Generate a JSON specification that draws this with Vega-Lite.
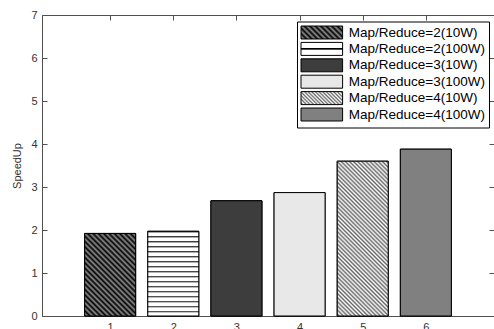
{
  "$schema": "https://vega.github.io/schema/vega-lite/v6.json",
  "width": 452,
  "height": 301,
  "autosize": "none",
  "padding": {"left": 42, "top": 15, "right": 0, "bottom": 13},
  "background": "white",
  "config": {"view": {"stroke": null}, "font": "Liberation Sans"},
  "data": {"values": [
    {"x": 1, "speedup": 1.92, "series": "Map/Reduce=2(10W)"},
    {"x": 2, "speedup": 1.97, "series": "Map/Reduce=2(100W)"},
    {"x": 3, "speedup": 2.68, "series": "Map/Reduce=3(10W)"},
    {"x": 4, "speedup": 2.87, "series": "Map/Reduce=3(100W)"},
    {"x": 5, "speedup": 3.60, "series": "Map/Reduce=4(10W)"},
    {"x": 6, "speedup": 3.88, "series": "Map/Reduce=4(100W)"}
  ]},
  "layer": [
    {
      "mark": {"type": "bar", "width": 51, "strokeWidth": 1},
      "encoding": {
        "x": {"field": "x", "type": "quantitative", "scale": {"domain": [0, 7], "nice": false}, "axis": null},
        "y": {"field": "speedup", "type": "quantitative", "scale": {"domain": [0, 7], "nice": false}, "axis": null},
        "fill": {
          "field": "x", "type": "ordinal", "legend": null,
          "scale": {"domain": [1, 2, 3, 4, 5, 6], "range": ["#333333", "#f0f0f0", "#3d3d3d", "#e8e8e8", "#bbbbbb", "#808080"]}
        },
        "stroke": {
          "field": "series", "type": "nominal",
          "scale": {
            "domain": ["Map/Reduce=2(10W)", "Map/Reduce=2(100W)", "Map/Reduce=3(10W)", "Map/Reduce=3(100W)", "Map/Reduce=4(10W)", "Map/Reduce=4(100W)"],
            "range": ["#000000", "#000000", "#000000", "#000000", "#000000", "#000000"]
          },
          "legend": {
            "orient": "none", "legendX": 255, "legendY": 6.5, "title": null,
            "strokeColor": "#000", "fillColor": "#fff", "padding": 4, "rowPadding": -1.6,
            "symbolType": "M-3.2,-1H3.2V1H-3.2Z", "symbolSize": 169, "symbolOffset": 13.8,
            "symbolStrokeWidth": 1, "symbolOpacity": 1, "symbolFillColor": "#808080",
            "labelOffset": 20, "labelFont": "Liberation Sans", "labelFontSize": 13.5, "labelColor": "#000", "labelLimit": 300,
            "encode": {"symbols": {"update": {
              "strokeWidth": {"value": 1},
              "fill": [
                {"test": "datum.value === 'Map/Reduce=2(10W)'", "value": {"gradient": "linear", "x1": 1, "y1": 0, "x2": -0.196, "y2": 0.374, "stops": [
                  {"offset": 0, "color": "#000"}, {"offset": 0.05, "color": "#8c8c8c"}, {"offset": 0.1, "color": "#000"}, {"offset": 0.15, "color": "#8c8c8c"},
                  {"offset": 0.2, "color": "#000"}, {"offset": 0.25, "color": "#8c8c8c"}, {"offset": 0.3, "color": "#000"}, {"offset": 0.35, "color": "#8c8c8c"},
                  {"offset": 0.4, "color": "#000"}, {"offset": 0.45, "color": "#8c8c8c"}, {"offset": 0.5, "color": "#000"}, {"offset": 0.55, "color": "#8c8c8c"},
                  {"offset": 0.6, "color": "#000"}, {"offset": 0.65, "color": "#8c8c8c"}, {"offset": 0.7, "color": "#000"}, {"offset": 0.75, "color": "#8c8c8c"},
                  {"offset": 0.8, "color": "#000"}, {"offset": 0.85, "color": "#8c8c8c"}, {"offset": 0.9, "color": "#000"}, {"offset": 0.95, "color": "#8c8c8c"},
                  {"offset": 1, "color": "#000"}
                ]}},
                {"test": "datum.value === 'Map/Reduce=2(100W)'", "value": {"gradient": "linear", "x1": 0, "y1": 0, "x2": 0, "y2": 1, "stops": [
                  {"offset": 0, "color": "#fff"}, {"offset": 0.44, "color": "#fff"}, {"offset": 0.46, "color": "#000"},
                  {"offset": 0.54, "color": "#000"}, {"offset": 0.56, "color": "#fff"}, {"offset": 1, "color": "#fff"}
                ]}},
                {"test": "datum.value === 'Map/Reduce=3(10W)'", "value": "#3d3d3d"},
                {"test": "datum.value === 'Map/Reduce=3(100W)'", "value": "#e8e8e8"},
                {"test": "datum.value === 'Map/Reduce=4(10W)'", "value": {"gradient": "linear", "x1": 1, "y1": 0, "x2": -0.196, "y2": 0.374, "stops": [
                  {"offset": 0, "color": "#fff"}, {"offset": 0.0333, "color": "#666"}, {"offset": 0.0667, "color": "#fff"}, {"offset": 0.1, "color": "#666"},
                  {"offset": 0.1333, "color": "#fff"}, {"offset": 0.1667, "color": "#666"}, {"offset": 0.2, "color": "#fff"}, {"offset": 0.2333, "color": "#666"},
                  {"offset": 0.2667, "color": "#fff"}, {"offset": 0.3, "color": "#666"}, {"offset": 0.3333, "color": "#fff"}, {"offset": 0.3667, "color": "#666"},
                  {"offset": 0.4, "color": "#fff"}, {"offset": 0.4333, "color": "#666"}, {"offset": 0.4667, "color": "#fff"}, {"offset": 0.5, "color": "#666"},
                  {"offset": 0.5333, "color": "#fff"}, {"offset": 0.5667, "color": "#666"}, {"offset": 0.6, "color": "#fff"}, {"offset": 0.6333, "color": "#666"},
                  {"offset": 0.6667, "color": "#fff"}, {"offset": 0.7, "color": "#666"}, {"offset": 0.7333, "color": "#fff"}, {"offset": 0.7667, "color": "#666"},
                  {"offset": 0.8, "color": "#fff"}, {"offset": 0.8333, "color": "#666"}, {"offset": 0.8667, "color": "#fff"}, {"offset": 0.9, "color": "#666"},
                  {"offset": 0.9333, "color": "#fff"}, {"offset": 0.9667, "color": "#666"}, {"offset": 1, "color": "#fff"}
                ]}},
                {"value": "#808080"}
              ]
            }}}
          }
        }
      }
    },
    {
      "mark": {"type": "bar", "width": 51, "stroke": "#000", "strokeWidth": 1},
      "encoding": {
        "x": {"field": "x", "type": "quantitative", "scale": {"domain": [0, 7], "nice": false},
          "axis": {"values": [1, 2, 3, 4, 5, 6], "title": null, "grid": false, "tickSize": -5, "labelPadding": 10,
            "domainColor": "#505050", "tickColor": "#505050", "labelColor": "#333", "labelFont": "Liberation Sans",
            "labelFontSize": 11, "labelFlush": false, "labelOverlap": false}},
        "y": {"field": "speedup", "type": "quantitative", "scale": {"domain": [0, 7], "nice": false},
          "axis": {"values": [0, 1, 2, 3, 4, 5, 6, 7], "title": "SpeedUp", "grid": false, "tickSize": -5, "labelPadding": 10,
            "domainColor": "#505050", "tickColor": "#505050", "labelColor": "#333", "labelFont": "Liberation Sans",
            "labelFontSize": 11, "labelFlush": false, "labelOverlap": false,
            "titleFont": "Liberation Sans", "titleFontSize": 11, "titleFontWeight": "normal", "titleColor": "#333", "titlePadding": 8}},
        "fill": {
          "condition": [
            {"test": "datum.x === 1", "value": {"gradient": "linear", "x1": 1, "y1": 0, "x2": 0.278, "y2": 1.171, "stops": [
              {"offset": 0, "color": "#000"}, {"offset": 0.02, "color": "#8c8c8c"}, {"offset": 0.04, "color": "#000"}, {"offset": 0.06, "color": "#8c8c8c"},
              {"offset": 0.08, "color": "#000"}, {"offset": 0.1, "color": "#8c8c8c"}, {"offset": 0.12, "color": "#000"}, {"offset": 0.14, "color": "#8c8c8c"},
              {"offset": 0.16, "color": "#000"}, {"offset": 0.18, "color": "#8c8c8c"}, {"offset": 0.2, "color": "#000"}, {"offset": 0.22, "color": "#8c8c8c"},
              {"offset": 0.24, "color": "#000"}, {"offset": 0.26, "color": "#8c8c8c"}, {"offset": 0.28, "color": "#000"}, {"offset": 0.3, "color": "#8c8c8c"},
              {"offset": 0.32, "color": "#000"}, {"offset": 0.34, "color": "#8c8c8c"}, {"offset": 0.36, "color": "#000"}, {"offset": 0.38, "color": "#8c8c8c"},
              {"offset": 0.4, "color": "#000"}, {"offset": 0.42, "color": "#8c8c8c"}, {"offset": 0.44, "color": "#000"}, {"offset": 0.46, "color": "#8c8c8c"},
              {"offset": 0.48, "color": "#000"}, {"offset": 0.5, "color": "#8c8c8c"}, {"offset": 0.52, "color": "#000"}, {"offset": 0.54, "color": "#8c8c8c"},
              {"offset": 0.56, "color": "#000"}, {"offset": 0.58, "color": "#8c8c8c"}, {"offset": 0.6, "color": "#000"}, {"offset": 0.62, "color": "#8c8c8c"},
              {"offset": 0.64, "color": "#000"}, {"offset": 0.66, "color": "#8c8c8c"}, {"offset": 0.68, "color": "#000"}, {"offset": 0.7, "color": "#8c8c8c"},
              {"offset": 0.72, "color": "#000"}, {"offset": 0.74, "color": "#8c8c8c"}, {"offset": 0.76, "color": "#000"}, {"offset": 0.78, "color": "#8c8c8c"},
              {"offset": 0.8, "color": "#000"}, {"offset": 0.82, "color": "#8c8c8c"}, {"offset": 0.84, "color": "#000"}, {"offset": 0.86, "color": "#8c8c8c"},
              {"offset": 0.88, "color": "#000"}, {"offset": 0.9, "color": "#8c8c8c"}, {"offset": 0.92, "color": "#000"}, {"offset": 0.94, "color": "#8c8c8c"},
              {"offset": 0.96, "color": "#000"}, {"offset": 0.98, "color": "#8c8c8c"}, {"offset": 1, "color": "#000"}
            ]}},
            {"test": "datum.x === 2", "value": {"gradient": "linear", "x1": 0, "y1": 0, "x2": 0, "y2": 1, "stops": [
              {"offset": 0, "color": "#222"}, {"offset": 0.024, "color": "#fff"}, {"offset": 0.0588, "color": "#fff"},
              {"offset": 0.0588, "color": "#222"}, {"offset": 0.0828, "color": "#fff"}, {"offset": 0.1176, "color": "#fff"},
              {"offset": 0.1176, "color": "#222"}, {"offset": 0.1416, "color": "#fff"}, {"offset": 0.1765, "color": "#fff"},
              {"offset": 0.1765, "color": "#222"}, {"offset": 0.2005, "color": "#fff"}, {"offset": 0.2353, "color": "#fff"},
              {"offset": 0.2353, "color": "#222"}, {"offset": 0.2593, "color": "#fff"}, {"offset": 0.2941, "color": "#fff"},
              {"offset": 0.2941, "color": "#222"}, {"offset": 0.3181, "color": "#fff"}, {"offset": 0.3529, "color": "#fff"},
              {"offset": 0.3529, "color": "#222"}, {"offset": 0.3769, "color": "#fff"}, {"offset": 0.4118, "color": "#fff"},
              {"offset": 0.4118, "color": "#222"}, {"offset": 0.4358, "color": "#fff"}, {"offset": 0.4706, "color": "#fff"},
              {"offset": 0.4706, "color": "#222"}, {"offset": 0.4946, "color": "#fff"}, {"offset": 0.5294, "color": "#fff"},
              {"offset": 0.5294, "color": "#222"}, {"offset": 0.5534, "color": "#fff"}, {"offset": 0.5882, "color": "#fff"},
              {"offset": 0.5882, "color": "#222"}, {"offset": 0.6122, "color": "#fff"}, {"offset": 0.6471, "color": "#fff"},
              {"offset": 0.6471, "color": "#222"}, {"offset": 0.6711, "color": "#fff"}, {"offset": 0.7059, "color": "#fff"},
              {"offset": 0.7059, "color": "#222"}, {"offset": 0.7299, "color": "#fff"}, {"offset": 0.7647, "color": "#fff"},
              {"offset": 0.7647, "color": "#222"}, {"offset": 0.7887, "color": "#fff"}, {"offset": 0.8235, "color": "#fff"},
              {"offset": 0.8235, "color": "#222"}, {"offset": 0.8475, "color": "#fff"}, {"offset": 0.8824, "color": "#fff"},
              {"offset": 0.8824, "color": "#222"}, {"offset": 0.9064, "color": "#fff"}, {"offset": 0.9412, "color": "#fff"},
              {"offset": 0.9412, "color": "#222"}, {"offset": 0.9652, "color": "#fff"}, {"offset": 1, "color": "#fff"}
            ]}},
            {"test": "datum.x === 3", "value": "#3d3d3d"},
            {"test": "datum.x === 4", "value": "#e8e8e8"},
            {"test": "datum.x === 5", "value": {"gradient": "linear", "x1": 1, "y1": 0, "x2": 0.605, "y2": 1.199, "stops": [
              {"offset": 0, "color": "#fff"}, {"offset": 0.01, "color": "#666"}, {"offset": 0.02, "color": "#fff"}, {"offset": 0.03, "color": "#666"},
              {"offset": 0.04, "color": "#fff"}, {"offset": 0.05, "color": "#666"}, {"offset": 0.06, "color": "#fff"}, {"offset": 0.07, "color": "#666"},
              {"offset": 0.08, "color": "#fff"}, {"offset": 0.09, "color": "#666"}, {"offset": 0.1, "color": "#fff"}, {"offset": 0.11, "color": "#666"},
              {"offset": 0.12, "color": "#fff"}, {"offset": 0.13, "color": "#666"}, {"offset": 0.14, "color": "#fff"}, {"offset": 0.15, "color": "#666"},
              {"offset": 0.16, "color": "#fff"}, {"offset": 0.17, "color": "#666"}, {"offset": 0.18, "color": "#fff"}, {"offset": 0.19, "color": "#666"},
              {"offset": 0.2, "color": "#fff"}, {"offset": 0.21, "color": "#666"}, {"offset": 0.22, "color": "#fff"}, {"offset": 0.23, "color": "#666"},
              {"offset": 0.24, "color": "#fff"}, {"offset": 0.25, "color": "#666"}, {"offset": 0.26, "color": "#fff"}, {"offset": 0.27, "color": "#666"},
              {"offset": 0.28, "color": "#fff"}, {"offset": 0.29, "color": "#666"}, {"offset": 0.3, "color": "#fff"}, {"offset": 0.31, "color": "#666"},
              {"offset": 0.32, "color": "#fff"}, {"offset": 0.33, "color": "#666"}, {"offset": 0.34, "color": "#fff"}, {"offset": 0.35, "color": "#666"},
              {"offset": 0.36, "color": "#fff"}, {"offset": 0.37, "color": "#666"}, {"offset": 0.38, "color": "#fff"}, {"offset": 0.39, "color": "#666"},
              {"offset": 0.4, "color": "#fff"}, {"offset": 0.41, "color": "#666"}, {"offset": 0.42, "color": "#fff"}, {"offset": 0.43, "color": "#666"},
              {"offset": 0.44, "color": "#fff"}, {"offset": 0.45, "color": "#666"}, {"offset": 0.46, "color": "#fff"}, {"offset": 0.47, "color": "#666"},
              {"offset": 0.48, "color": "#fff"}, {"offset": 0.49, "color": "#666"}, {"offset": 0.5, "color": "#fff"}, {"offset": 0.51, "color": "#666"},
              {"offset": 0.52, "color": "#fff"}, {"offset": 0.53, "color": "#666"}, {"offset": 0.54, "color": "#fff"}, {"offset": 0.55, "color": "#666"},
              {"offset": 0.56, "color": "#fff"}, {"offset": 0.57, "color": "#666"}, {"offset": 0.58, "color": "#fff"}, {"offset": 0.59, "color": "#666"},
              {"offset": 0.6, "color": "#fff"}, {"offset": 0.61, "color": "#666"}, {"offset": 0.62, "color": "#fff"}, {"offset": 0.63, "color": "#666"},
              {"offset": 0.64, "color": "#fff"}, {"offset": 0.65, "color": "#666"}, {"offset": 0.66, "color": "#fff"}, {"offset": 0.67, "color": "#666"},
              {"offset": 0.68, "color": "#fff"}, {"offset": 0.69, "color": "#666"}, {"offset": 0.7, "color": "#fff"}, {"offset": 0.71, "color": "#666"},
              {"offset": 0.72, "color": "#fff"}, {"offset": 0.73, "color": "#666"}, {"offset": 0.74, "color": "#fff"}, {"offset": 0.75, "color": "#666"},
              {"offset": 0.76, "color": "#fff"}, {"offset": 0.77, "color": "#666"}, {"offset": 0.78, "color": "#fff"}, {"offset": 0.79, "color": "#666"},
              {"offset": 0.8, "color": "#fff"}, {"offset": 0.81, "color": "#666"}, {"offset": 0.82, "color": "#fff"}, {"offset": 0.83, "color": "#666"},
              {"offset": 0.84, "color": "#fff"}, {"offset": 0.85, "color": "#666"}, {"offset": 0.86, "color": "#fff"}, {"offset": 0.87, "color": "#666"},
              {"offset": 0.88, "color": "#fff"}, {"offset": 0.89, "color": "#666"}, {"offset": 0.9, "color": "#fff"}, {"offset": 0.91, "color": "#666"},
              {"offset": 0.92, "color": "#fff"}, {"offset": 0.93, "color": "#666"}, {"offset": 0.94, "color": "#fff"}, {"offset": 0.95, "color": "#666"},
              {"offset": 0.96, "color": "#fff"}, {"offset": 0.97, "color": "#666"}, {"offset": 0.98, "color": "#fff"}, {"offset": 0.99, "color": "#666"},
              {"offset": 1, "color": "#fff"}
            ]}}
          ],
          "value": "#808080"
        }
      }
    },
    {
      "mark": {"type": "point", "opacity": 0},
      "encoding": {
        "x": {"field": "x", "type": "quantitative", "scale": {"domain": [0, 7], "nice": false},
          "axis": {"orient": "top", "values": [1, 2, 3, 4, 5, 6], "labels": false, "title": null, "grid": false, "tickSize": -5,
            "domainColor": "#505050", "tickColor": "#505050"}},
        "y": {"field": "speedup", "type": "quantitative", "scale": {"domain": [0, 7], "nice": false},
          "axis": {"orient": "right", "values": [0, 1, 2, 3, 4, 5, 6, 7], "labels": false, "title": null, "grid": false, "tickSize": -5,
            "domainColor": "#505050", "tickColor": "#505050"}}
      }
    }
  ],
  "resolve": {"axis": {"x": "independent", "y": "independent"}}
}
